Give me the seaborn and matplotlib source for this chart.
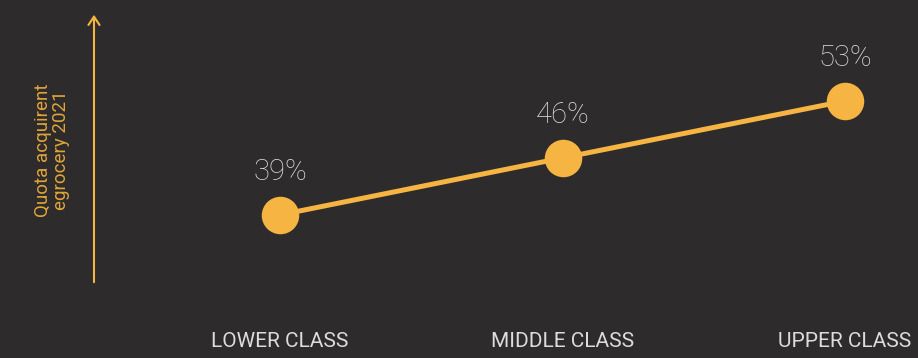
import matplotlib

matplotlib.use("Agg")
import matplotlib.pyplot as plt
import pandas as pd
import seaborn as sns

classes = ["LOWER CLASS", "MIDDLE CLASS", "UPPER CLASS"]
quota = [39, 46, 53]
axis_label = "Quota acquirent\negrocery 2021"

BG = "#2e2b2d"
ORANGE = "#f6b443"
LIGHT = "#dcdcdc"

df = pd.DataFrame({"classe": classes, "quota": quota})

sns.set_theme(style="dark")
plt.rcParams["font.family"] = ["Roboto", "DejaVu Sans"]

fig = plt.figure(figsize=(9.18, 3.58), dpi=100, facecolor=BG)
ax = fig.add_axes([0, 0.12, 1, 0.88])
ax.set_facecolor(BG)

sns.lineplot(
    data=df, x="classe", y="quota", ax=ax, color=ORANGE, linewidth=3.6,
    marker="o", markersize=27, markeredgewidth=0, sort=False,
)

for i, v in enumerate(quota):
    ax.annotate(f"{v}%", (i, v), xytext=(0, 21), textcoords="offset points",
                ha="center", va="bottom", fontsize=21, fontweight="light",
                color=LIGHT)

# pixel mapping: x=0 -> 280px, x=2 -> 845px
ax.set_xlim(-0.991, 2.258)
ax.set_ylim(26.7, 65.4)
ax.set_xticks(range(len(classes)))
ax.set_xticklabels(classes, fontsize=15, color=LIGHT)
ax.tick_params(axis="x", length=0, pad=12)
ax.set_yticks([])
ax.set_xlabel("")
ax.set_ylabel("")
ax.grid(False)
for s in ax.spines.values():
    s.set_visible(False)

# arrow for y direction
fig.patches.append(matplotlib.patches.FancyArrowPatch(
    (94 / 918, 1 - 285 / 358), (94 / 918, 1 - 12 / 358),
    transform=fig.transFigure, arrowstyle="->,head_width=4,head_length=6",
    color=ORANGE, linewidth=1.5, mutation_scale=1,
))
fig.text(52 / 918, 1 - 150 / 358, axis_label, rotation=90, ha="center",
         va="center", fontsize=13.5, color="#e0a53a", linespacing=1.0)

fig.savefig("out.png", dpi=100, facecolor=BG)
